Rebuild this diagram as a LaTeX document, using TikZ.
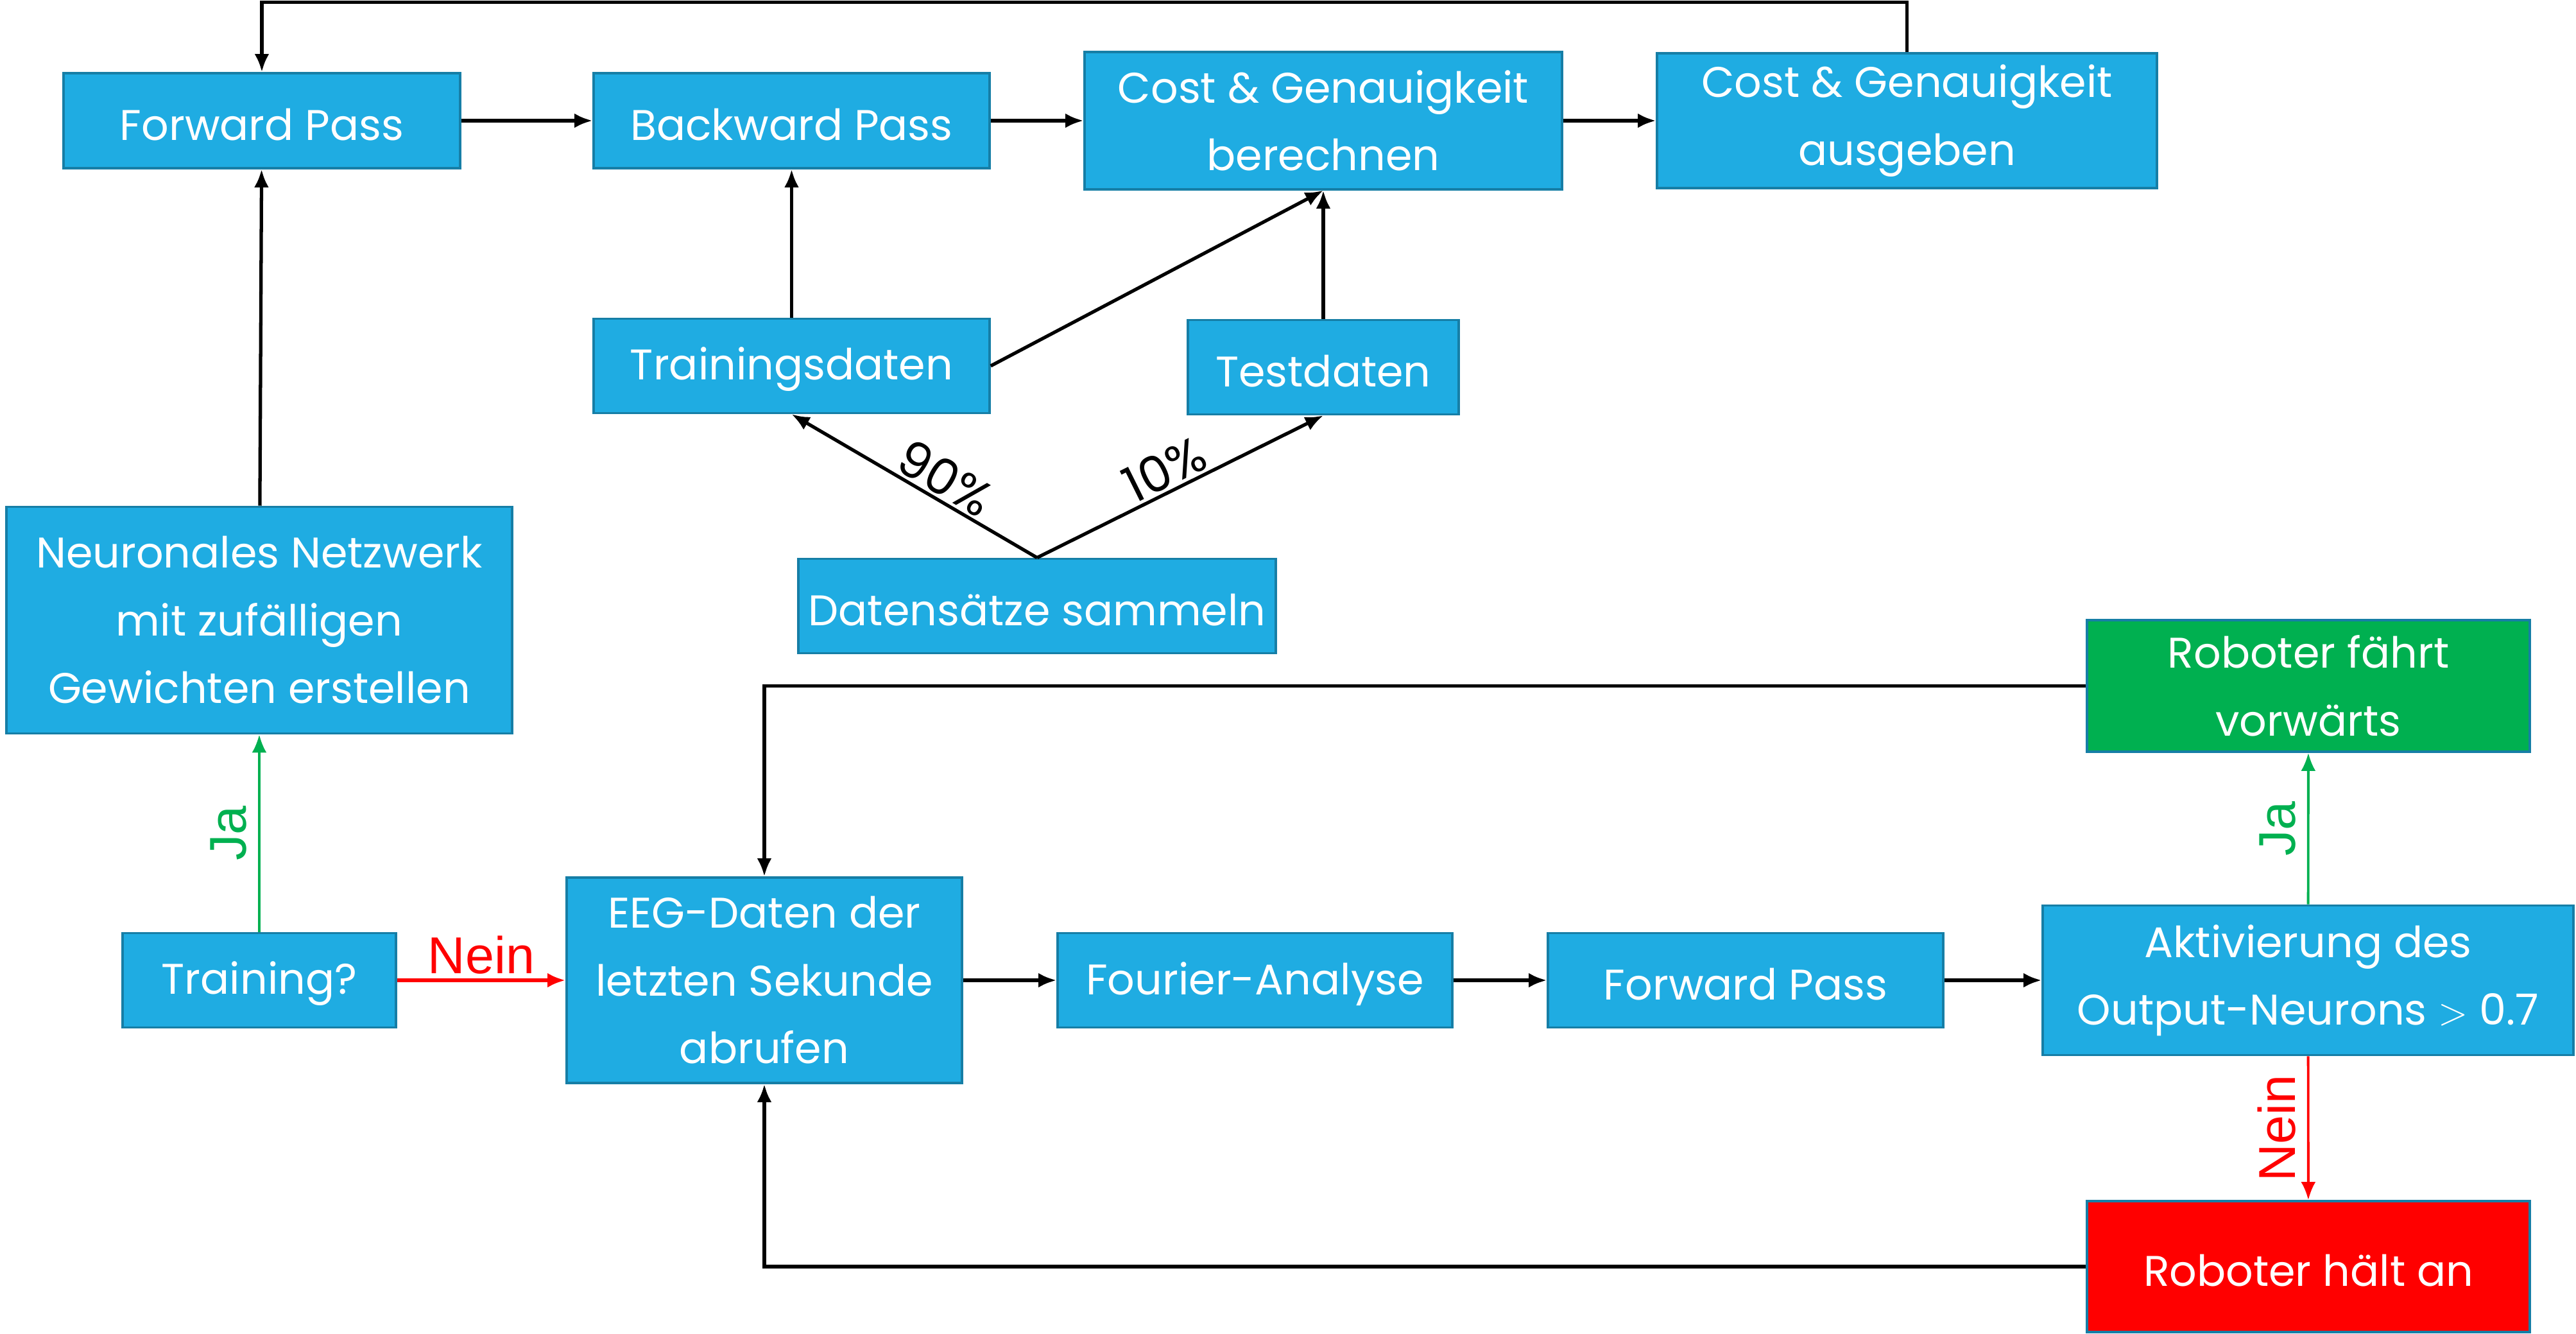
\documentclass[tikz,border=0pt]{standalone}
\usepackage{fontspec}
\setmainfont{Poppins}
\newfontfamily\arialfont{Liberation Sans}
\usetikzlibrary{arrows.meta}
\definecolor{boxblue}{RGB}{31,172,226}
\definecolor{boxline}{RGB}{22,126,166}
\definecolor{jagreen}{RGB}{0,176,80}
\definecolor{neinred}{RGB}{255,0,0}
\begin{document}
\begin{tikzpicture}[->, >={Latex[length=8pt,width=6.5pt]}, line width=1.5pt,
    flow box/.style={rectangle, draw=boxline, line width=1pt, fill=boxblue, text=white, align=center, inner sep=0pt, minimum width=6.17cm, minimum height=1.47cm, execute at begin node={\rule{0pt}{17.5pt}}},
    answer/.style={font=\arialfont\fontsize{23}{26}\selectfont, inner sep=5pt},
    share/.style={sloped, above, inner sep=1pt, font=\fontsize{22}{26}\selectfont}]
    \tikzstyle{every node}=[font=\fontsize{19}{30}\selectfont]
    \useasboundingbox (0,0) rectangle (40.14,20.77);

      \node[flow box, minimum width=6.18cm, minimum height=1.48cm] (1) at (4.08,18.89) {Forward Pass};
      \node[flow box, minimum height=1.48cm] (2) at (12.335,18.89) {Backward Pass};
      \node[flow box, minimum width=7.44cm, minimum height=2.14cm] (3) at (20.62,18.89) {Cost \& Genauigkeit\\berechnen};
      \node[flow box, minimum width=7.79cm, minimum height=2.10cm] (4) at (29.715,18.89) {Cost \& Genauigkeit\\ausgeben};
      \node[flow box] (5) at (12.335,15.07) {Trainingsdaten};
      \node[flow box, minimum width=4.22cm] (6) at (20.62,15.05) {Testdaten};
      \node[flow box, minimum width=7.88cm, minimum height=3.53cm] (7) at (4.04,11.11) {Neuronales Netzwerk\\mit zufälligen\\Gewichten erstellen};
      \node[flow box, minimum width=7.44cm] (8) at (16.16,11.33) {Datensätze sammeln};
      \node[flow box, minimum width=4.26cm] (9) at (4.04,5.5) {Training?};
      \node[flow box, minimum width=6.16cm, minimum height=3.20cm] (10) at (11.91,5.5) {EEG-Daten der\\letzten Sekunde\\abrufen};
      \node[flow box, minimum width=6.15cm] (11) at (19.555,5.5) {Fourier-Analyse};
      \node[flow box, minimum width=6.16cm] (12) at (27.20,5.5) {Forward Pass};
      \node[flow box, minimum width=8.27cm, minimum height=2.33cm] (13) at (35.965,5.5) {Aktivierung des\\Output-Neurons $>$ 0.7};
      \node[flow box, fill=jagreen, minimum width=6.90cm, minimum height=2.05cm] (14) at (35.97,10.085) {Roboter fährt\\vorwärts};
      \node[flow box, fill=neinred, minimum width=6.90cm, minimum height=2.04cm] (15) at (35.97,1.04) {Roboter hält an};
      \coordinate (top) at (0,20.735);

      \path
        (1) edge (2)
        (2) edge (3)
        (3) edge (4)
        (7) edge (1)
        (5) edge (2)
        (5.east) edge (3.south)
        (6) edge (3)
        (8.north) edge node [share, pos=0.42] {90\%} (5.south)
        (8.north) edge node [share, pos=0.48] {10\%} (6.south)
        (10) edge (11)
        (11) edge (12)
        (12) edge (13);

      \path
        (9) edge [jagreen, line width=1.1pt] node [answer, midway, rotate=90, anchor=south, text=jagreen] {Ja} (7)
            edge [neinred, line width=1.6pt] node [answer, midway, above, text=neinred, inner sep=2pt] {Nein} (10)
        (13) edge [jagreen, line width=1.1pt] node [answer, midway, rotate=90, anchor=south, text=jagreen] {Ja} (14)
             edge [neinred, line width=1.1pt] node [answer, midway, rotate=90, anchor=south, text=neinred] {Nein} (15);

      \draw (4.north) -- (4.north |- top) -| (1.north);
      \draw (14.west) -| (10.north);
      \draw (15.west) -| (10.south);

    \end{tikzpicture}
\end{document}
